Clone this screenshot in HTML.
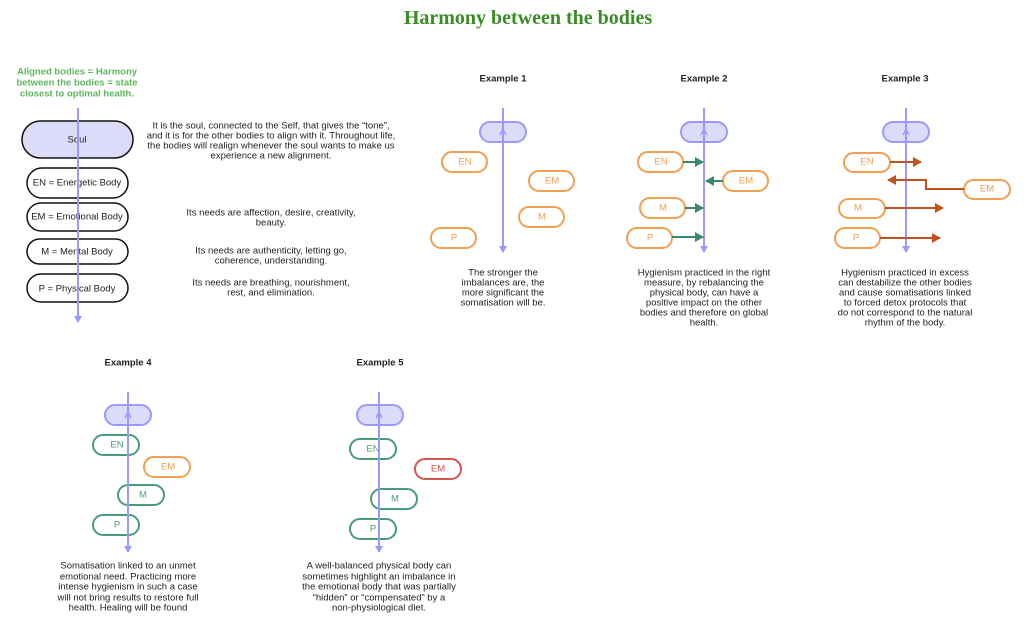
<!DOCTYPE html>
<html><head><meta charset="utf-8"><style>
html,body{margin:0;padding:0;background:#fff;width:1024px;height:625px;overflow:hidden}
svg{display:block}
text{font-family:"Liberation Sans",sans-serif;font-size:9.5px;fill:#222;dominant-baseline:central;text-anchor:middle}
.b{font-weight:bold}
</style></head><body>
<svg width="1024" height="625" viewBox="0 0 1024 625" xmlns="http://www.w3.org/2000/svg">
<defs>
<marker id="ap" markerWidth="8" markerHeight="8" refX="6" refY="4" orient="auto" markerUnits="userSpaceOnUse"><path d="M0,0 L7,4 L0,8 Z" fill="#9999ff"/></marker>
<marker id="ag" markerWidth="10" markerHeight="10" refX="8" refY="5" orient="auto" markerUnits="userSpaceOnUse"><path d="M0,0 L9,5 L0,10 Z" fill="#3a8a6a"/></marker>
<marker id="ar" markerWidth="10" markerHeight="10" refX="8" refY="5" orient="auto" markerUnits="userSpaceOnUse"><path d="M0,0 L9,5 L0,10 Z" fill="#c0531e"/></marker>
</defs>
<text x="528" y="18" style="font-family:'Liberation Serif',serif;font-size:20px;font-weight:bold;fill:#3a8c25">Harmony between the bodies</text>
<g class="b" style="fill:#5cb85c">
<text x="77" y="72" class="b" style="fill:#5cb85c">Aligned bodies = Harmony</text>
<text x="77" y="83" class="b" style="fill:#5cb85c">between the bodies = state</text>
<text x="77" y="94" class="b" style="fill:#5cb85c">closest to optimal health.</text>
</g>
<!-- Left column -->
<g stroke-width="1.5" stroke="#111" fill="#fff">
<rect x="22" y="121" width="111" height="37" rx="18.5" fill="#dcdcfa"/>
<rect x="27" y="168" width="101" height="30" rx="15"/>
<rect x="27" y="203" width="101" height="28" rx="14"/>
<rect x="27" y="239" width="101" height="25" rx="12.5"/>
<rect x="27" y="274" width="101" height="28" rx="14"/>
</g>
<text x="77" y="140">Soul</text>
<text x="77" y="183">EN = Energetic Body</text>
<text x="77" y="217">EM = Emotional Body</text>
<text x="77" y="252">M = Mental Body</text>
<text x="77" y="289">P = Physical Body</text>
<line x1="78" y1="108" x2="78" y2="322" stroke="#9999ff" stroke-width="2" marker-end="url(#ap)"/>
<text x="271" y="126">It is the soul, connected to the Self, that gives the “tone”,</text>
<text x="271" y="136">and it is for the other bodies to align with it. Throughout life,</text>
<text x="271" y="146">the bodies will realign whenever the soul wants to make us</text>
<text x="271" y="156">experience a new alignment.</text>
<text x="271" y="213">Its needs are affection, desire, creativity,</text>
<text x="271" y="223">beauty.</text>
<text x="271" y="251">Its needs are authenticity, letting go,</text>
<text x="271" y="261">coherence, understanding.</text>
<text x="271" y="283">Its needs are breathing, nourishment,</text>
<text x="271" y="293">rest, and elimination.</text>

<!-- Example 1 -->
<text x="503" y="79" class="b">Example 1</text>
<g stroke-width="2" fill="#fff" stroke="#f0a050">
<rect x="480" y="122" width="46" height="20" rx="10" fill="#dcdcfa" stroke="#9999ff"/>
<rect x="442" y="152" width="45" height="20" rx="10"/>
<rect x="529" y="171" width="45" height="20" rx="10"/>
<rect x="519" y="207" width="45" height="20" rx="10"/>
<rect x="431" y="228" width="45" height="20" rx="10"/>
</g>
<g style="fill:#f0a050"><text x="465" y="162" style="fill:#f0a050">EN</text><text x="552" y="181" style="fill:#f0a050">EM</text><text x="542" y="217" style="fill:#f0a050">M</text><text x="454" y="238" style="fill:#f0a050">P</text></g>
<line x1="503" y1="108" x2="503" y2="252" stroke="#9999ff" stroke-width="2" marker-end="url(#ap)"/>
<path d="M500,135 L503,129 L506,135" stroke="#9999ff" fill="none" stroke-width="1.5"/>
<text x="503" y="273">The stronger the</text>
<text x="503" y="283">imbalances are, the</text>
<text x="503" y="293">more significant the</text>
<text x="503" y="303">somatisation will be.</text>

<!-- Example 2 -->
<text x="704" y="79" class="b">Example 2</text>
<g stroke-width="2" fill="#fff" stroke="#f0a050">
<rect x="681" y="122" width="46" height="20" rx="10" fill="#dcdcfa" stroke="#9999ff"/>
<rect x="638" y="152" width="45" height="20" rx="10"/>
<rect x="723" y="171" width="45" height="20" rx="10"/>
<rect x="640" y="198" width="45" height="20" rx="10"/>
<rect x="627" y="228" width="45" height="20" rx="10"/>
</g>
<text x="661" y="162" style="fill:#f0a050">EN</text><text x="746" y="181" style="fill:#f0a050">EM</text><text x="663" y="208" style="fill:#f0a050">M</text><text x="650" y="238" style="fill:#f0a050">P</text>
<line x1="704" y1="108" x2="704" y2="252" stroke="#9999ff" stroke-width="2" marker-end="url(#ap)"/>
<path d="M701,135 L704,129 L707,135" stroke="#9999ff" fill="none" stroke-width="1.5"/>
<g stroke="#3a8a6a" stroke-width="2">
<line x1="683" y1="162" x2="703" y2="162" marker-end="url(#ag)"/>
<line x1="723" y1="181" x2="706" y2="181" marker-end="url(#ag)"/>
<line x1="685" y1="208" x2="703" y2="208" marker-end="url(#ag)"/>
<line x1="672" y1="237" x2="703" y2="237" marker-end="url(#ag)"/>
</g>
<text x="704" y="273">Hygienism practiced in the right</text>
<text x="704" y="283">measure, by rebalancing the</text>
<text x="704" y="293">physical body, can have a</text>
<text x="704" y="303">positive impact on the other</text>
<text x="704" y="313">bodies and therefore on global</text>
<text x="704" y="323">health.</text>

<!-- Example 3 -->
<text x="905" y="79" class="b">Example 3</text>
<g stroke-width="2" fill="#fff" stroke="#f0a050">
<rect x="883" y="122" width="46" height="20" rx="10" fill="#dcdcfa" stroke="#9999ff"/>
<rect x="844" y="153" width="46" height="19" rx="9.5"/>
<rect x="964" y="180" width="46" height="19" rx="9.5"/>
<rect x="839" y="199" width="46" height="19" rx="9.5"/>
<rect x="835" y="228" width="45" height="20" rx="10"/>
</g>
<text x="867" y="162" style="fill:#f0a050">EN</text><text x="987" y="189" style="fill:#f0a050">EM</text><text x="858" y="208" style="fill:#f0a050">M</text><text x="856" y="238" style="fill:#f0a050">P</text>
<line x1="906" y1="108" x2="906" y2="252" stroke="#9999ff" stroke-width="2" marker-end="url(#ap)"/>
<path d="M903,135 L906,129 L909,135" stroke="#9999ff" fill="none" stroke-width="1.5"/>
<g stroke="#c0531e" stroke-width="2" fill="none">
<line x1="890" y1="162" x2="921" y2="162" marker-end="url(#ar)"/>
<path d="M964,189 L926,189 L926,180 L888,180" marker-end="url(#ar)"/>
<line x1="885" y1="208" x2="943" y2="208" marker-end="url(#ar)"/>
<line x1="880" y1="238" x2="940" y2="238" marker-end="url(#ar)"/>
</g>
<text x="905" y="273">Hygienism practiced in excess</text>
<text x="905" y="283">can destabilize the other bodies</text>
<text x="905" y="293">and cause somatisations linked</text>
<text x="905" y="303">to forced detox protocols that</text>
<text x="905" y="313">do not correspond to the natural</text>
<text x="905" y="323">rhythm of the body.</text>

<!-- Example 4 -->
<text x="128" y="363" class="b">Example 4</text>
<g stroke-width="2" fill="#fff" stroke="#4a9a80">
<rect x="105" y="405" width="46" height="20" rx="10" fill="#dcdcfa" stroke="#9999ff"/>
<rect x="93" y="435" width="46" height="20" rx="10"/>
<rect x="144" y="457" width="46" height="20" rx="10" stroke="#f0a050"/>
<rect x="118" y="485" width="46" height="20" rx="10"/>
<rect x="93" y="515" width="46" height="20" rx="10"/>
</g>
<text x="117" y="445" style="fill:#4a9a80">EN</text><text x="168" y="467" style="fill:#f0a050">EM</text><text x="143" y="495" style="fill:#4a9a80">M</text><text x="117" y="525" style="fill:#4a9a80">P</text>
<line x1="128" y1="392" x2="128" y2="552" stroke="#9999ff" stroke-width="2" marker-end="url(#ap)"/>
<path d="M125,418 L128,412 L131,418" stroke="#9999ff" fill="none" stroke-width="1.5"/>
<text x="128" y="566">Somatisation linked to an unmet</text>
<text x="128" y="577">emotional need. Practicing more</text>
<text x="128" y="587">intense hygienism in such a case</text>
<text x="128" y="598">will not bring results to restore full</text>
<text x="128" y="608">health. Healing will be found</text>

<!-- Example 5 -->
<text x="380" y="363" class="b">Example 5</text>
<g stroke-width="2" fill="#fff" stroke="#4a9a80">
<rect x="357" y="405" width="46" height="20" rx="10" fill="#dcdcfa" stroke="#9999ff"/>
<rect x="350" y="439" width="46" height="20" rx="10"/>
<rect x="415" y="459" width="46" height="20" rx="10" stroke="#d9534f"/>
<rect x="371" y="489" width="46" height="20" rx="10"/>
<rect x="350" y="519" width="46" height="20" rx="10"/>
</g>
<text x="373" y="449" style="fill:#4a9a80">EN</text><text x="438" y="469" style="fill:#d9534f">EM</text><text x="395" y="499" style="fill:#4a9a80">M</text><text x="373" y="529" style="fill:#4a9a80">P</text>
<line x1="379" y1="392" x2="379" y2="552" stroke="#9999ff" stroke-width="2" marker-end="url(#ap)"/>
<path d="M376,418 L379,412 L382,418" stroke="#9999ff" fill="none" stroke-width="1.5"/>
<text x="379" y="566">A well-balanced physical body can</text>
<text x="379" y="577">sometimes highlight an imbalance in</text>
<text x="379" y="587">the emotional body that was partially</text>
<text x="379" y="598">“hidden” or “compensated” by a</text>
<text x="379" y="608">non-physiological diet.</text>
</svg>
</body></html>
